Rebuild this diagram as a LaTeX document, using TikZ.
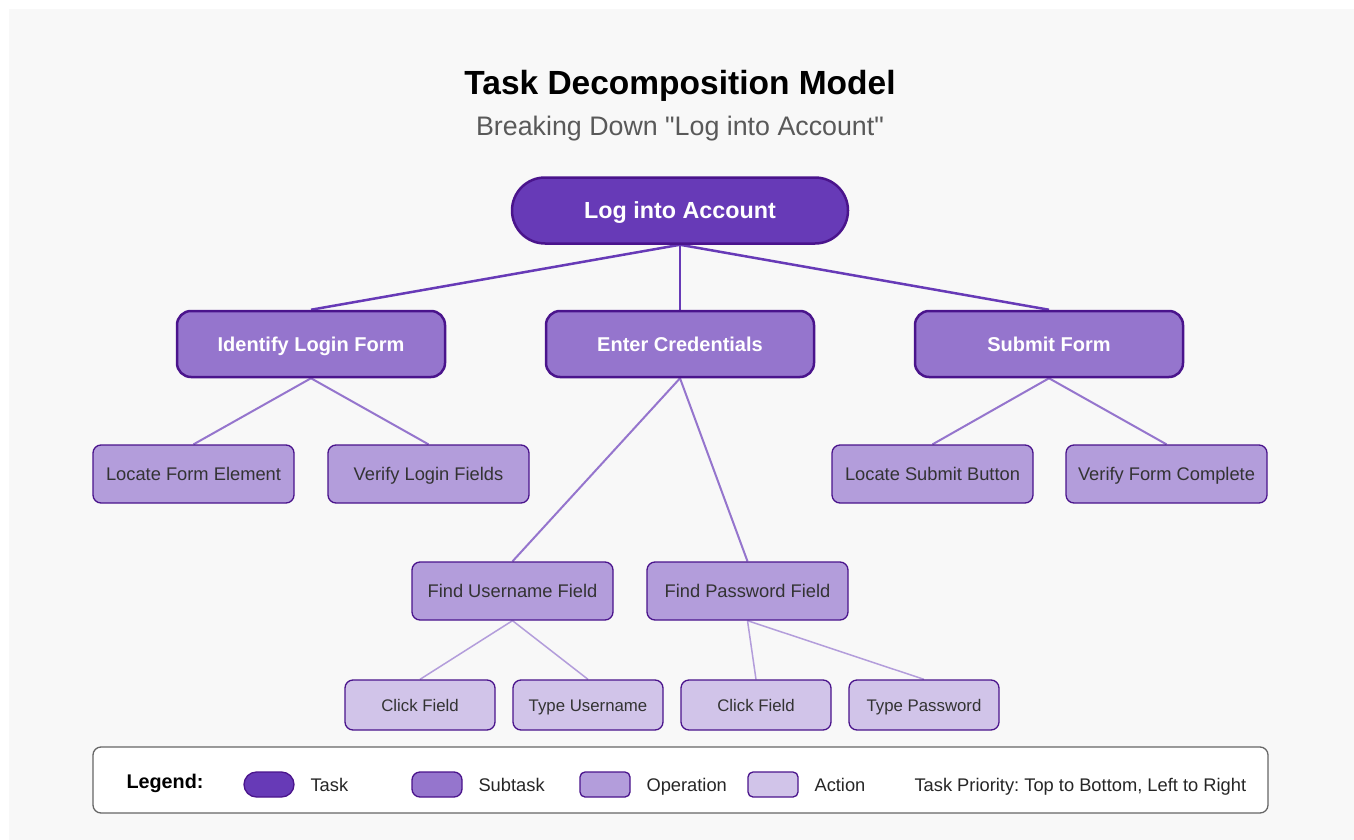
\documentclass[tikz,border=0pt]{standalone}
\usepackage{fontspec}
\setmainfont{Liberation Sans}
\usepackage{tikz}
\usetikzlibrary{backgrounds}
\frenchspacing

\definecolor{taskc}{HTML}{673AB7}
\definecolor{subc}{HTML}{9575CD}
\definecolor{opc}{HTML}{B39DDB}
\definecolor{actc}{HTML}{D1C4E9}
\definecolor{edgec}{HTML}{4A148C}
\definecolor{bgc}{HTML}{F8F8F8}

\begin{document}
\begin{tikzpicture}[x=1pt,y=-1pt,
    task/.style={draw=edgec,line width=2.5pt,fill=taskc,rounded corners=33pt,minimum width=336pt,minimum height=66pt,text=white,font=\fontsize{23.3}{27}\selectfont\bfseries,text height=21.5pt,text depth=4.7pt},
    subtask/.style={draw=edgec,line width=2.5pt,fill=subc,rounded corners=14pt,minimum width=268pt,minimum height=66pt,text=white,font=\fontsize{20}{24}\selectfont\bfseries,text height=18.4pt,text depth=4pt},
    oper/.style={draw=edgec,line width=1.3pt,fill=opc,rounded corners=8pt,minimum width=201pt,minimum height=58pt,text=black!80,font=\fontsize{18.3}{22}\selectfont,text height=16.8pt,text depth=3.7pt},
    act/.style={draw=edgec,line width=1.3pt,fill=actc,rounded corners=8pt,minimum width=150pt,minimum height=50pt,text=black!80,font=\fontsize{16.8}{20}\selectfont,text height=15.5pt,text depth=3.4pt},
    swatch/.style={draw=edgec,line width=1.3pt,minimum width=50pt,minimum height=25pt},
    lbl/.style={anchor=west,text=black!85,font=\fontsize{18.3}{22}\selectfont,text height=16.8pt,text depth=3.7pt}]
    \useasboundingbox (0,0) rectangle (1354,840);

    \node[text height=30.8pt,text depth=6.7pt] (title) at (680,82) {\fontsize{33.5}{38}\selectfont\bfseries Task Decomposition Model};
    \node[text=black!65,text height=24.6pt,text depth=5.4pt] (subtitle) at (680,126) {\fontsize{26.8}{31}\selectfont Breaking Down \textquotedbl Log into Account\textquotedbl};

    \node[task] (t-1) at (680,210.5) {Log into Account};
    \node[subtask] (s-1) at (311,344) {Identify Login Form};
    \node[subtask] (s-2) at (680,344) {Enter Credentials};
    \node[subtask] (s-3) at (1049,344) {Submit Form};
    \node[oper] (o-1) at (193.5,474) {Locate Form Element};
    \node[oper] (o-2) at (428.5,474) {Verify Login Fields};
    \node[oper] (o-3) at (932.5,474) {Locate Submit Button};
    \node[oper] (o-4) at (1166.5,474) {Verify Form Complete};
    \node[oper] (o-5) at (512.5,591) {Find Username Field};
    \node[oper] (o-6) at (747.5,591) {Find Password Field};
    \node[act] (a-1) at (420,705) {Click Field};
    \node[act] (a-2) at (588,705) {Type Username};
    \node[act] (a-3) at (756,705) {Click Field};
    \node[act] (a-4) at (924,705) {Type Password};

    % connectors go under the boxes
    \begin{pgfonlayer}{background}
    \fill[white] (0,0) rectangle (1354,840);
    \fill[bgc] (9,9) rectangle (1354,840);
    \path[draw=taskc,line width=2.5pt]
    (t-1.south) edge (s-1.north)
    (t-1.south) edge (s-2.north)
    (t-1.south) edge (s-3.north);
    \path[draw=subc,line width=2pt]
    (s-1.south) edge (o-1.north)
    (s-1.south) edge (o-2.north)
    (s-2.south) edge (o-5.north)
    (s-2.south) edge (o-6.north)
    (s-3.south) edge (o-3.north)
    (s-3.south) edge (o-4.north);
    \path[draw=opc,line width=1.5pt]
    (o-5.south) edge (a-1.north)
    (o-5.south) edge (a-2.north)
    (o-6.south) edge (a-3.north)
    (o-6.south) edge (a-4.north);
    \end{pgfonlayer}

    % legend
    \node[draw=black!60,line width=1.3pt,fill=white,rounded corners=8pt,minimum width=1175pt,minimum height=66pt] (legend) at (680.5,780) {};
    \node[font=\fontsize{19.8}{24}\selectfont\bfseries,text height=18.2pt,text depth=4pt] (leg-t) at (165,781) {Legend:};
    \node[swatch,fill=taskc,rounded corners=12.5pt] (k-1) at (269,784.5) {};
    \node[swatch,fill=subc,rounded corners=8pt] (k-2) at (437,784.5) {};
    \node[swatch,fill=opc,rounded corners=5pt] (k-3) at (605,784.5) {};
    \node[swatch,fill=actc,rounded corners=5pt] (k-4) at (773,784.5) {};
    \node[lbl] (l-1) at (307,785) {Task};
    \node[lbl] (l-2) at (475,785) {Subtask};
    \node[lbl] (l-3) at (643,785) {Operation};
    \node[lbl] (l-4) at (811,785) {Action};
    \node[lbl] (l-5) at (911,785) {Task Priority: Top to Bottom, Left to Right};
\end{tikzpicture}
\end{document}
